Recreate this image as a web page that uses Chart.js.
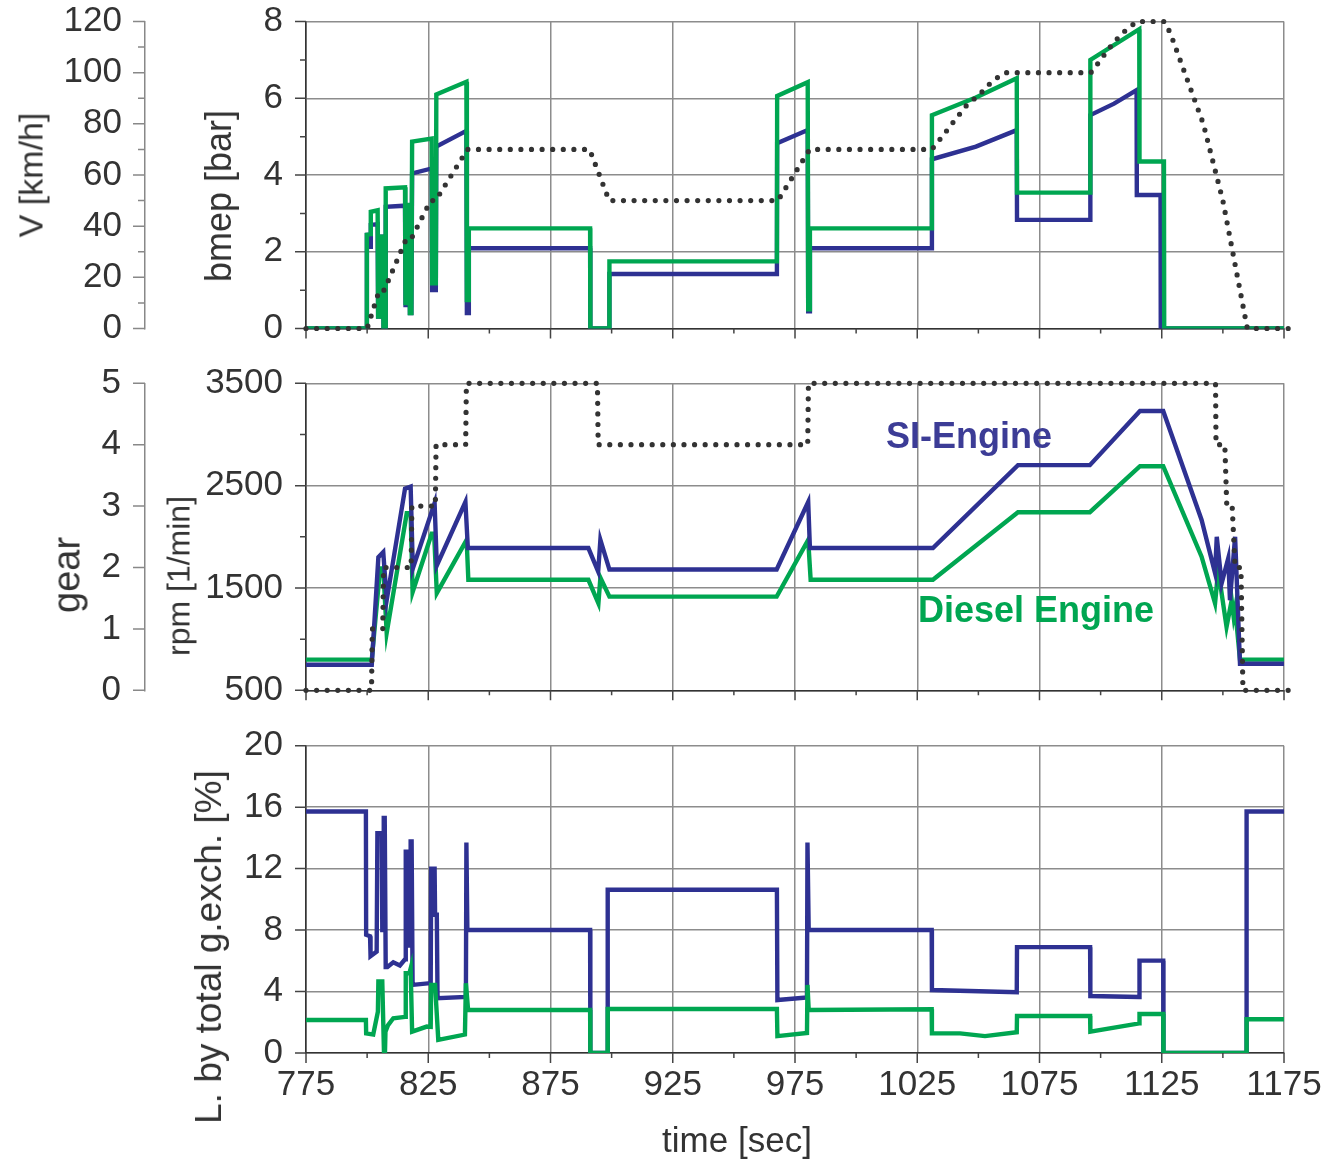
<!DOCTYPE html>
<html>
<head>
<meta charset="utf-8">
<script src="https://cdn.jsdelivr.net/npm/chart.js@4.4.1/dist/chart.umd.min.js"></script>
<style>
  html, body { margin: 0; padding: 0; background: #fff; }
  #wrap { position: relative; width: 1334px; height: 1162px; overflow: hidden; background: #fff; }
  #wrap canvas { position: absolute; left: 0; top: 0; }
  .lbl { position: absolute; white-space: nowrap; font-family: 'Liberation Sans', Arial, sans-serif; color: #333; line-height: normal; }
  .rot { transform: translate(-50%, -50%) rotate(-90deg); }
  .ctr { transform: translate(-50%, -50%); }
  .mid { transform: translateY(-50%); font-weight: bold; }
</style>
</head>
<body>
<div id="wrap">
  <canvas id="cTop" width="1334" height="1162"></canvas>
  <canvas id="cMid" width="1334" height="1162"></canvas>
  <canvas id="cBot" width="1334" height="1162"></canvas>

  <div class="lbl rot" style="left:31px;top:175px;font-size:34px">V [km/h]</div>
  <div class="lbl rot" style="left:219px;top:196px;font-size:36px">bmep [bar]</div>
  <div class="lbl rot" style="left:67px;top:575px;font-size:38px">gear</div>
  <div class="lbl rot" style="left:179px;top:576px;font-size:32px">rpm [1/min]</div>
  <div class="lbl rot" style="left:209px;top:947px;font-size:37px">L. by total g.exch. [%]</div>
  <div class="lbl ctr" style="left:737px;top:1140px;font-size:35px">time [sec]</div>
  <div class="lbl mid" style="left:886px;top:436px;font-size:36px;color:#3c3c96">SI-Engine</div>
  <div class="lbl mid" style="left:918px;top:610px;font-size:36px;color:#00a651">Diesel Engine</div>
</div>

<script>
// ---- axis ticks ----
const timeTicks = [775, 825, 875, 925, 975, 1025, 1075, 1125, 1175];
const timeMinor = [800, 850, 900, 950, 1000, 1050, 1100, 1150];
const vTicks = [0, 20, 40, 60, 80, 100, 120];
const vMinor = [10, 30, 50, 70, 90, 110];
const bmepTicks = [0, 2, 4, 6, 8];
const bmepMinor = [1, 3, 5, 7];
const gearTicks = [0, 1, 2, 3, 4, 5];
const rpmTicks = [500, 1500, 2500, 3500];
const rpmMinor = [1000, 2000, 3000];
const lossTicks = [0, 4, 8, 12, 16, 20];

// ---- vehicle speed [km/h], time [s] ----
const speed = [[775,0],[800,0],[805,15],[807,15],[816,35],[818,35],[826,50],[828,50],[841,70],[891,70],[899,50],[968,50],[981,70],[1031,70],[1036,76],[1040,81],[1045,87],[1051,92],[1056,97],[1061,100],[1096,100],[1100,105],[1103,109],[1107,113.5],[1111,117.3],[1115,120],[1126,120],[1128.5,115.5],[1142,80],[1150,50],[1160,0],[1180,0]];

// ---- bmep [bar] ----
const bmepSI = [[775,0],[799.8,0],[799.9,2.44],[801.0,2.44],[801.1,2.13],[801.4,2.13],[801.5,2.7],[804.3,2.72],[804.5,0.31],[805.9,0.31],[806.1,2.39],[806.5,2.39],[806.7,0],[807.4,0],[807.6,3.17],[815.5,3.2],[815.7,0.61],[816.6,0.61],[816.9,3.2],[817.2,3.2],[817.5,0.4],[818.1,0.4],[818.4,4.04],[826.4,4.17],[826.6,1.0],[827.3,1.0],[827.5,4.2],[827.7,1.0],[828.1,1.0],[828.3,4.74],[840.6,5.15],[840.8,0.4],[841.3,0.4],[841.6,2.09],[891.2,2.09],[891.3,0],[899.0,0],[899.1,1.42],[967.6,1.42],[967.7,4.83],[980.2,5.17],[980.4,0.45],[980.9,0.45],[981.1,2.09],[1030.9,2.09],[1031.0,4.41],[1049,4.74],[1065.7,5.17],[1065.8,2.83],[1095.7,2.83],[1095.8,5.56],[1105.5,5.86],[1114.7,6.21],[1114.8,3.48],[1124.5,3.48],[1124.6,0],[1175,0]];
const bmepDiesel = [[775,0],[799.8,0],[799.9,2.44],[801.3,2.46],[801.5,3.04],[804.3,3.08],[804.5,0.31],[805.9,0.31],[806.1,2.39],[806.5,2.39],[806.7,0],[807.4,0],[807.6,3.65],[815.5,3.68],[815.7,0.66],[816.6,0.66],[816.9,3.22],[817.2,3.22],[817.5,0.4],[818.1,0.4],[818.4,4.87],[826.4,4.95],[826.6,1.18],[827.3,1.18],[827.5,4.39],[827.7,1.18],[828.1,1.18],[828.3,6.1],[840.6,6.43],[840.8,0.74],[841.3,0.74],[841.6,2.61],[891.2,2.61],[891.3,0],[899.0,0],[899.1,1.75],[967.6,1.75],[967.7,6.06],[980.2,6.42],[980.4,0.5],[980.9,0.5],[981.1,2.61],[1030.9,2.61],[1031.0,5.56],[1049,6.02],[1065.7,6.52],[1065.8,3.54],[1095.7,3.54],[1095.8,7.0],[1115.8,7.8],[1115.9,4.35],[1125.9,4.35],[1126.0,0],[1175,0]];

// ---- gear ----
const gear = [[775,0],[801.8,0],[802.1,1],[806.4,1],[806.7,2],[818.0,2],[818.3,3],[827.9,3],[828.2,4],[840.3,4],[840.6,5],[894.2,5],[894.5,4],[980.2,4],[980.5,5],[1147.0,5],[1147.2,4],[1150.8,4],[1151.6,3],[1153.8,3],[1155.0,2],[1157.4,2],[1158.2,0],[1180,0]];

// ---- engine speed [1/min] ----
const rpmSI = [[775,750],[801.9,750],[804.6,1800],[806.6,1850],[808.0,1380],[815.5,2470],[817.8,2490],[818.7,1690],[827.6,2330],[828.5,1720],[840.2,2340],[841.2,1890],[890.5,1890],[894.5,1660],[895.4,1970],[899.1,1680],[967.5,1680],[980.4,2340],[981.1,1890],[1031.4,1890],[1066.2,2700],[1095.6,2700],[1116.1,3230],[1125.6,3230],[1141.3,2165],[1146.8,1645],[1147.5,2000],[1149.5,1545],[1152.2,1790],[1152.9,1380],[1155.0,2000],[1157.0,760],[1175,760]];
const rpmDiesel = [[775,800],[801.9,800],[805.3,1690],[806.6,1690],[808.0,1060],[816.2,2230],[817.8,2230],[818.6,1460],[826.4,2030],[827.4,2030],[828.5,1450],[840.7,1970],[841.4,1580],[890.5,1580],[894.6,1350],[895.4,1600],[899.1,1415],[967.5,1415],[980.4,1970],[981.4,1580],[1031.4,1580],[1066.2,2240],[1095.6,2240],[1116.1,2690],[1125.6,2690],[1141.3,1805],[1146.8,1350],[1148.1,1675],[1151.5,1120],[1153.6,1380],[1154.4,1220],[1155.0,1300],[1157.0,800],[1175,800]];

// ---- loss by total gas exchange [%] ----
const lossSI = [[775,15.72],[799.5,15.72],[799.6,7.7],[801.2,7.6],[801.4,6.3],[803.9,6.6],[804.2,14.3],[806.0,14.3],[806.2,8.0],[806.6,8.0],[806.8,15.3],[807.2,15.3],[807.6,5.6],[808.3,5.6],[810.7,5.9],[813.4,5.7],[815.5,6.1],[815.8,13.1],[817.1,13.1],[817.3,7.0],[817.6,7.0],[817.8,13.77],[818.2,13.77],[818.6,4.43],[826.0,4.55],[826.2,12.0],[827.6,12.0],[827.8,9.0],[828.5,9.0],[828.8,3.56],[840.4,3.65],[840.6,13.7],[841.0,8.01],[891.2,8.01],[891.3,0],[898.3,0],[898.4,10.62],[967.6,10.62],[967.8,3.45],[979.9,3.62],[980.1,13.7],[980.6,8.01],[1030.9,8.01],[1031.0,4.1],[1065.7,3.95],[1065.8,6.89],[1095.7,6.89],[1095.8,3.71],[1115.8,3.64],[1115.9,6.01],[1125.6,6.01],[1125.7,0],[1159.6,0],[1159.7,15.72],[1175,15.72]];
const lossDiesel = [[775,2.15],[799.5,2.15],[799.6,1.28],[802.5,1.2],[804.4,2.69],[804.6,4.65],[806.2,4.65],[806.9,0],[807.3,0],[807.5,1.39],[808.5,1.8],[810.7,2.26],[815.5,2.35],[815.8,5.19],[817.3,5.19],[817.8,5.5],[818.4,1.39],[824.4,1.72],[826.0,1.7],[826.2,4.43],[827.8,4.43],[829.1,0.85],[840.0,1.2],[840.4,4.54],[841.3,2.8],[891.2,2.8],[891.3,0],[898.3,0],[898.4,2.86],[967.6,2.86],[967.8,1.1],[979.9,1.3],[980.1,4.43],[980.6,2.8],[1030.9,2.85],[1031.0,1.28],[1042.5,1.28],[1052.7,1.1],[1065.7,1.35],[1065.8,2.41],[1095.7,2.41],[1095.8,1.39],[1115.8,1.93],[1115.9,2.54],[1125.6,2.54],[1125.7,0],[1159.6,0],[1159.7,2.2],[1175,2.2]];

// ---- styling ----
const SI_BLUE = '#2e3192';
const DIESEL_GREEN = '#00a651';
const DOTS = '#333';
const GRID = '#8c8c8c';
const TICK_FONT = { size: 35 };

Chart.defaults.font.family = "'Liberation Sans', Arial, sans-serif";
Chart.defaults.color = '#333';

const toXY = arr => arr.map(([x, y]) => ({ x, y }));
const fmt = v => String(v);

// short outward tick marks (major and minor) drawn from the scale geometry
const tickMarks = {
  id: 'tickMarks',
  beforeDatasetsDraw(chart, args, opts) {
    const ctx = chart.ctx;
    (opts.axes || []).forEach(a => {
      const s = chart.scales[a.id];
      ctx.save();
      ctx.strokeStyle = a.color;
      ctx.lineWidth = a.width;
      ctx.beginPath();
      const draw = (vals, len) => vals.forEach(v => {
        const p = s.getPixelForValue(v);
        if (s.isHorizontal()) { ctx.moveTo(p, s.top); ctx.lineTo(p, s.top + len); }
        else { ctx.moveTo(s.right, p); ctx.lineTo(s.right - len, p); }
      });
      draw(a.major, a.majorLen);
      draw(a.minor || [], a.minorLen || 0);
      ctx.stroke();
      ctx.restore();
    });
  }
};

function timeScale(showLabels) {
  return {
    type: 'linear', min: 775, max: 1175,
    afterBuildTicks: s => { s.ticks = timeTicks.map(v => ({ value: v })); },
    ticks: { display: showLabels, font: TICK_FONT, color: '#333', padding: 11, maxRotation: 0, autoSkip: false, callback: fmt },
    grid: { color: GRID, lineWidth: 1.5, drawTicks: false, z: -1 },
    border: { color: '#333', width: 1.6 },
    afterFit: s => { s.height = showLabels ? 109 : 0; }
  };
}

function leftScale({ min, max, ticks, width, weight, padding, onArea, borderColor }) {
  return {
    type: 'linear', position: 'left', min, max, weight,
    afterBuildTicks: s => { s.ticks = ticks.map(v => ({ value: v })); },
    ticks: { font: TICK_FONT, color: '#333', padding, autoSkip: false, callback: fmt },
    grid: { color: GRID, lineWidth: 1.5, drawTicks: false, drawOnChartArea: onArea, z: -1 },
    border: { color: borderColor, width: onArea ? 1.6 : 1.5 },
    // fixed axis width; end labels may overhang the plot area
    afterFit: s => { s.width = width; s.paddingTop = 0; s.paddingBottom = 0; }
  };
}

function solid(data, color, yAxisID) {
  return { data: toXY(data), borderColor: color, borderWidth: 4.4, pointRadius: 0, tension: 0, fill: false, yAxisID, borderJoinStyle: 'miter' };
}
function dotted(data, yAxisID) {
  return { data: toXY(data), borderColor: DOTS, borderWidth: 5.2, pointRadius: 0, tension: 0, fill: false, yAxisID,
           borderDash: [0, 10.6], borderCapStyle: 'round', borderJoinStyle: 'round', clip: false };
}

const xMarks = { id: 'x', major: timeTicks, majorLen: 10, minor: timeMinor, minorLen: 5, color: '#444', width: 1.5 };

function baseOptions(padding, marks, scales) {
  return {
    responsive: false, animation: false, devicePixelRatio: 1, events: [],
    layout: { padding },
    plugins: { legend: { display: false }, tooltip: { enabled: false }, tickMarks: { axes: marks } },
    scales
  };
}

// ---- top: bmep and vehicle speed ----
new Chart(document.getElementById('cTop'), {
  type: 'line',
  data: { datasets: [
    dotted(speed, 'v'),
    solid(bmepDiesel, DIESEL_GREEN, 'bmep'),
    solid(bmepSI, SI_BLUE, 'bmep')
  ] },
  options: baseOptions({ top: 21.5, bottom: 833.5, left: 0, right: 50 }, [
    xMarks,
    { id: 'v', major: vTicks, majorLen: 12, minor: vMinor, minorLen: 7, color: '#888', width: 1.5 },
    { id: 'bmep', major: bmepTicks, majorLen: 11, minor: bmepMinor, minorLen: 6, color: '#444', width: 1.5 }
  ], {
    x: timeScale(false),
    v: leftScale({ min: 0, max: 120, ticks: vTicks, width: 145, weight: 1, padding: 23, onArea: false, borderColor: '#888' }),
    bmep: leftScale({ min: 0, max: 8, ticks: bmepTicks, width: 161, weight: 0, padding: 23, onArea: true, borderColor: '#333' })
  }),
  plugins: [tickMarks]
});

// ---- middle: engine speed and gear ----
new Chart(document.getElementById('cMid'), {
  type: 'line',
  data: { datasets: [
    dotted(gear, 'gear'),
    solid(rpmSI, SI_BLUE, 'rpm'),
    solid(rpmDiesel, DIESEL_GREEN, 'rpm')
  ] },
  options: baseOptions({ top: 383.3, bottom: 471.7, left: 0, right: 50 }, [
    xMarks,
    { id: 'gear', major: gearTicks, majorLen: 12, color: '#888', width: 1.5 },
    { id: 'rpm', major: rpmTicks, majorLen: 11, minor: rpmMinor, minorLen: 6, color: '#444', width: 1.5 }
  ], {
    x: timeScale(false),
    gear: leftScale({ min: 0, max: 5, ticks: gearTicks, width: 145, weight: 1, padding: 24, onArea: false, borderColor: '#888' }),
    rpm: leftScale({ min: 500, max: 3500, ticks: rpmTicks, width: 161, weight: 0, padding: 23, onArea: true, borderColor: '#333' })
  }),
  plugins: [tickMarks]
});

// ---- bottom: gas exchange loss ----
new Chart(document.getElementById('cBot'), {
  type: 'line',
  data: { datasets: [
    solid(lossDiesel, DIESEL_GREEN, 'loss'),
    solid(lossSI, SI_BLUE, 'loss')
  ] },
  options: baseOptions({ top: 745.7, bottom: 0, left: 0, right: 50 }, [
    xMarks,
    { id: 'loss', major: lossTicks, majorLen: 11, color: '#444', width: 1.5 }
  ], {
    x: timeScale(true),
    loss: leftScale({ min: 0, max: 20, ticks: lossTicks, width: 306, weight: 0, padding: 23, onArea: true, borderColor: '#333' })
  }),
  plugins: [tickMarks]
});
</script>
</body>
</html>
